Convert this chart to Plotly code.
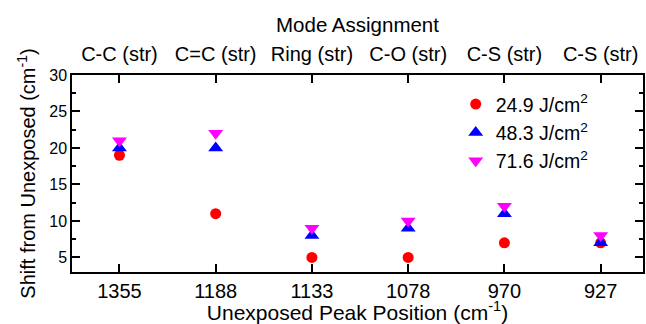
import plotly.graph_objects as go

peak_positions = ["1355", "1188", "1133", "1078", "970", "927"]
mode_labels = ["C-C (str)", "C=C (str)", "Ring (str)", "C-O (str)", "C-S (str)", "C-S (str)"]
series_names = ["24.9 J/cm<sup>2</sup>", "48.3 J/cm<sup>2</sup>", "71.6 J/cm<sup>2</sup>"]
shift_249 = [19, 11, 5, 5, 7, 7]
shift_483 = [20, 20, 8, 9, 11, 7]
shift_716 = [21, 22, 9, 10, 12, 8]

x_idx = list(range(len(peak_positions)))
FONT = "Liberation Sans, Arial, sans-serif"

fig = go.Figure()
styles = [
    (shift_249, "circle", "#FF0000", 11),
    (shift_483, "triangle-up", "#0000FF", 13),
    (shift_716, "triangle-down", "#FF00FF", 13),
]
for name, (vals, sym, col, sz) in zip(series_names, styles):
    fig.add_trace(go.Scatter(
        x=x_idx, y=vals, mode="markers", name=name,
        marker=dict(symbol=sym, color=col, size=sz, line=dict(width=0)),
    ))

# invisible trace to carry the top axis
fig.add_trace(go.Scatter(x=x_idx, y=shift_249, xaxis="x2", mode="markers",
                         marker=dict(opacity=0), showlegend=False, hoverinfo="skip"))

xr = [-0.493, 5.44]
fig.update_layout(
    width=646, height=324,
    margin=dict(l=72, r=1, t=75, b=52),
    paper_bgcolor="white", plot_bgcolor="white",
    font=dict(family=FONT, size=18, color="black"),
    showlegend=True,
    legend=dict(x=0.672, y=0.95, xanchor="left", yanchor="top",
                font=dict(size=19.5), bgcolor="rgba(0,0,0,0)", tracegroupgap=0),
    xaxis=dict(
        range=xr, tickmode="array", tickvals=x_idx, ticktext=peak_positions,
        tickfont=dict(size=20),
        ticks="inside", ticklen=8, tickwidth=1.5, tickcolor="black",
        showline=True, linecolor="black", linewidth=1.5, mirror="ticks",
        showgrid=False, zeroline=False,
        title=dict(text="Unexposed Peak Position (cm<sup>-1</sup>)", standoff=1,
                   font=dict(size=21)),
    ),
    xaxis2=dict(
        overlaying="x", side="top", range=xr, tickmode="array",
        tickvals=x_idx, ticktext=mode_labels, ticks="", showline=False,
        tickfont=dict(size=20),
        showgrid=False, zeroline=False, ticklabelstandoff=9,
        title=dict(text="Mode Assignment", standoff=4, font=dict(size=20.5)),
    ),
    yaxis=dict(
        range=[3, 30], tickmode="array", tickvals=[5, 10, 15, 20, 25, 30],
        tickfont=dict(size=16),
        ticks="inside", ticklen=8, tickwidth=1.5, tickcolor="black",
        minor=dict(dtick=2.5, tick0=0, ticks="inside", ticklen=4, tickwidth=1.5, tickcolor="black"),
        showline=True, linecolor="black", linewidth=1.5, mirror="ticks",
        showgrid=False, zeroline=False,
        title=dict(text="Shift from Unexposed (cm<sup>-1</sup>)", standoff=8,
                   font=dict(size=20)),
    ),
)

fig.write_html("out.html")
